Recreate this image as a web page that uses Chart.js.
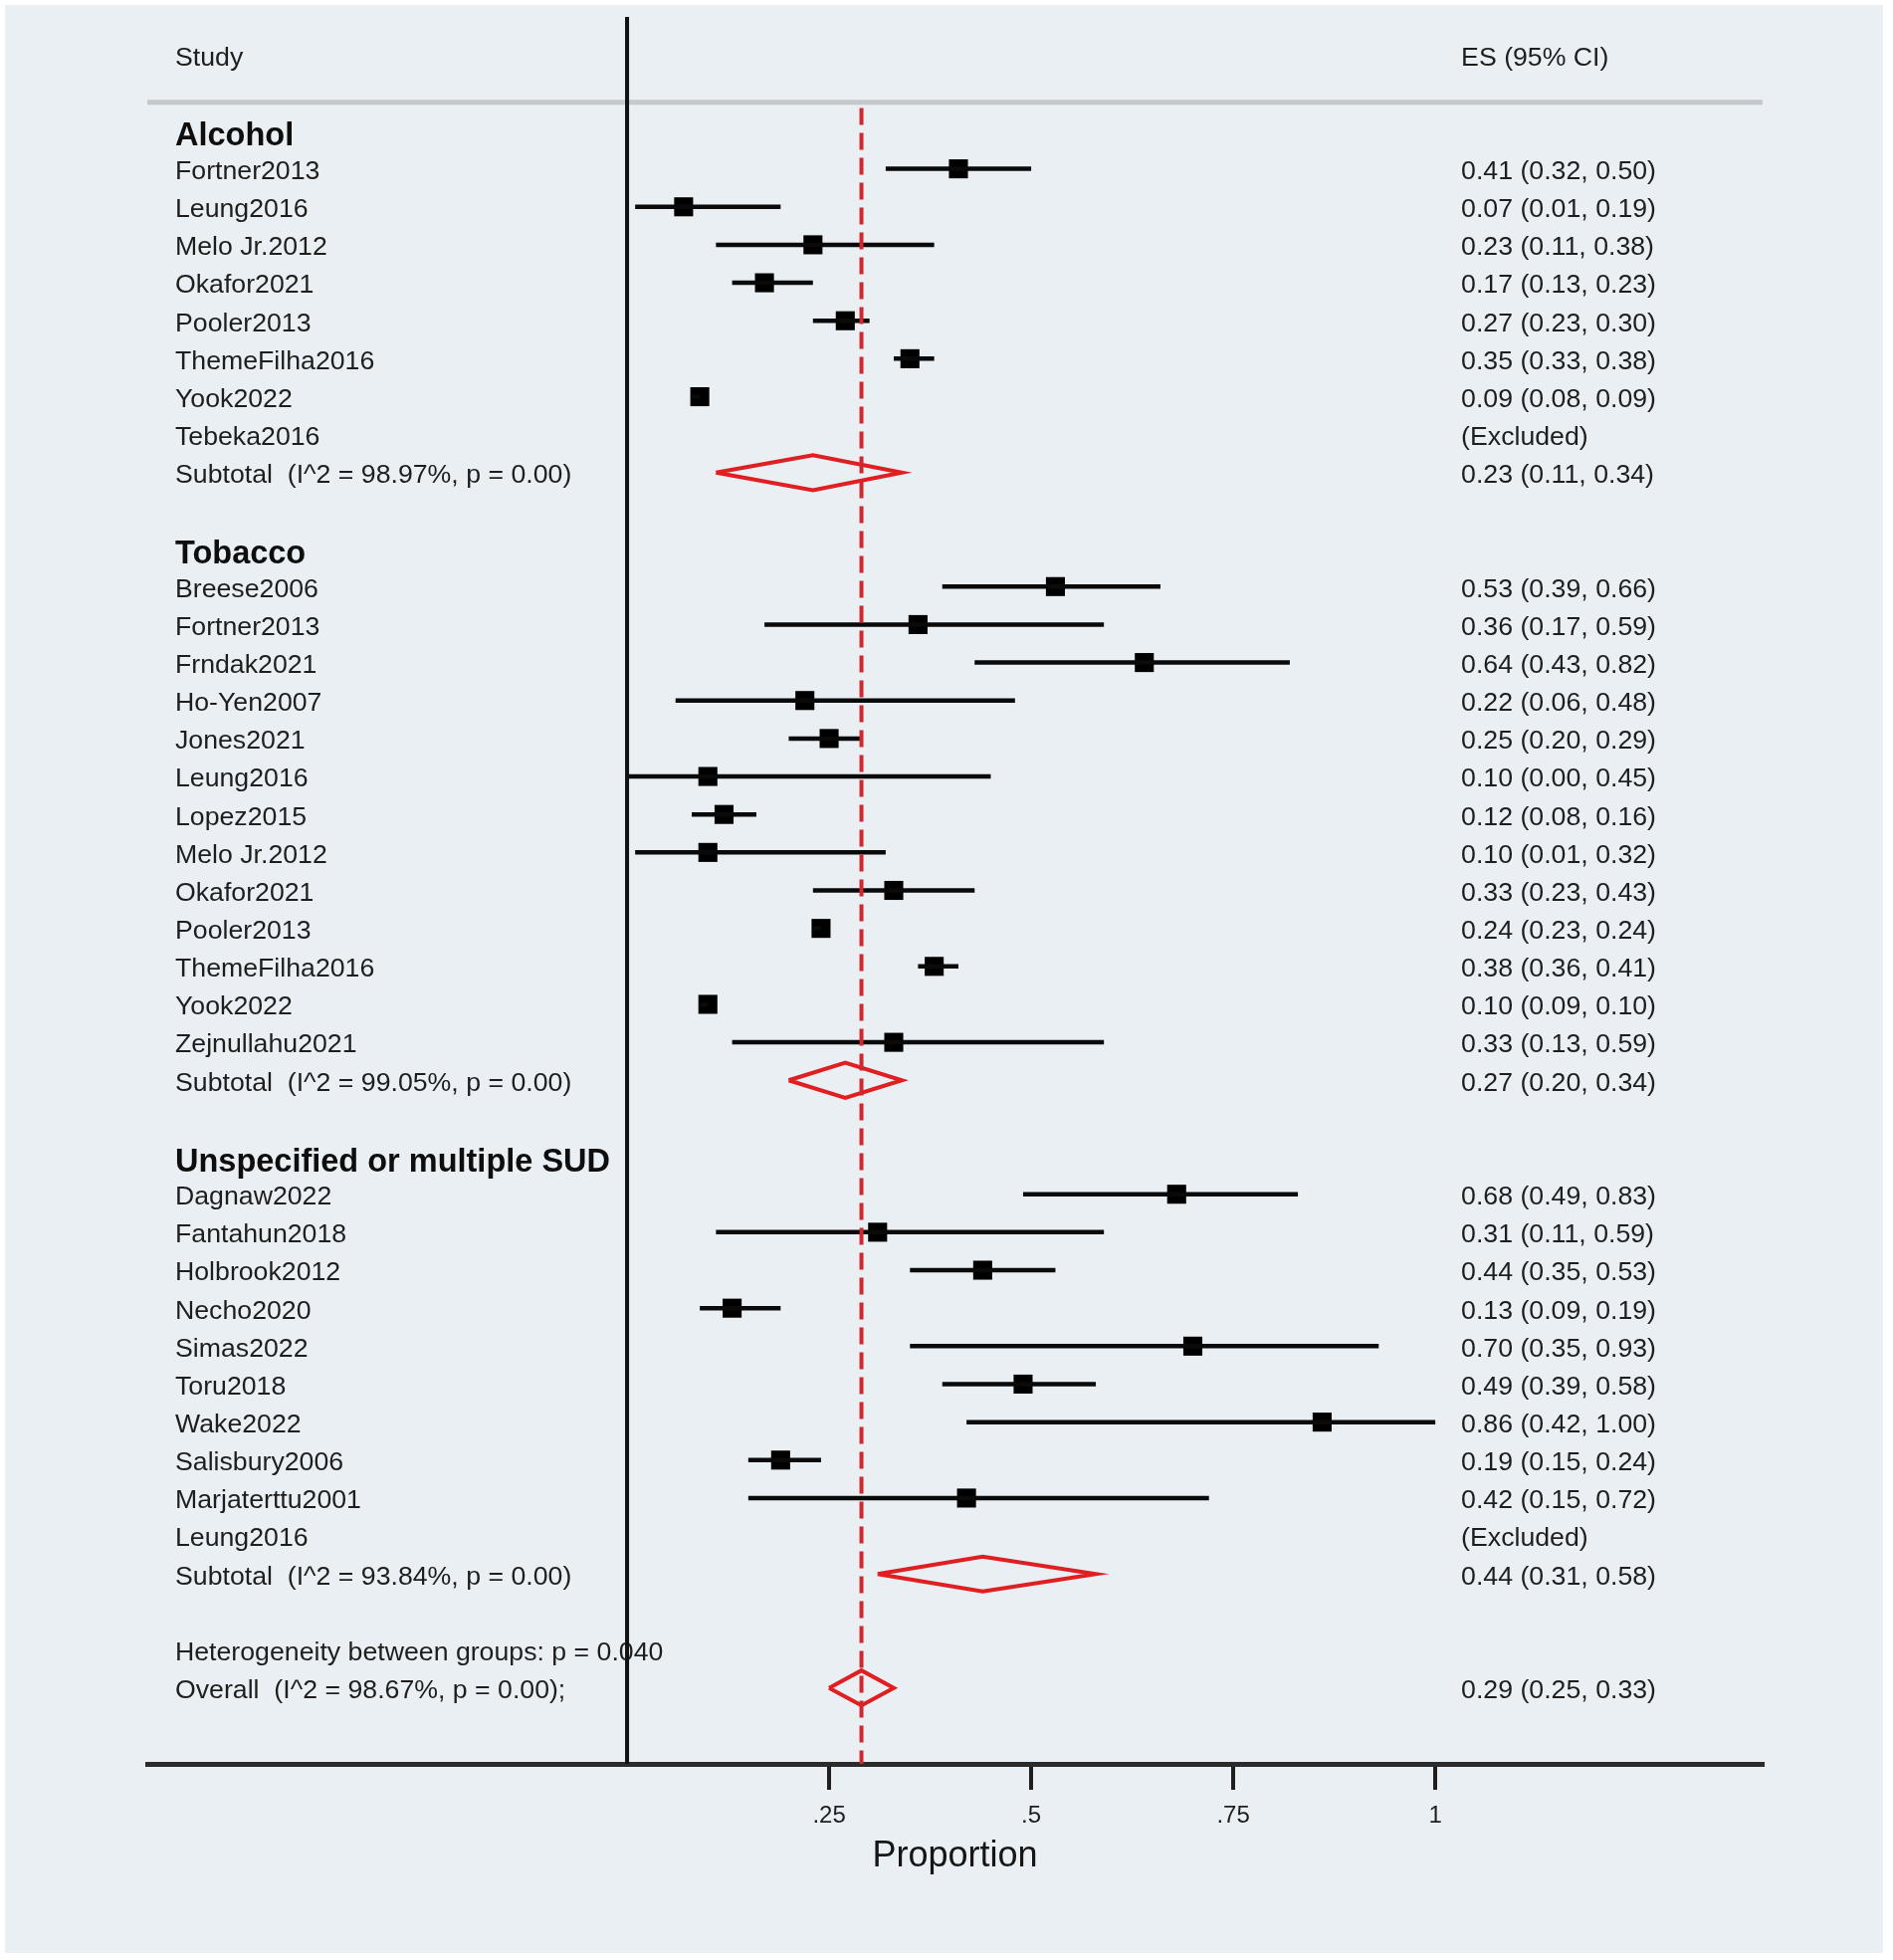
<!DOCTYPE html>
<html>
<head>
<meta charset="utf-8">
<title>Forest plot - Proportion</title>
<script src="https://cdn.jsdelivr.net/npm/chart.js@4.4.0/dist/chart.umd.min.js"></script>
<style>
    html, body { margin: 0; padding: 0; background: #ffffff; }
    #forest { display: block; }
</style>
</head>
<body>
<canvas id="forest" width="1902" height="1969"></canvas>
<script>

const groupNames = ['Alcohol', 'Tobacco', 'Unspecified or multiple SUD'];

const alcoholStudies = ['Fortner2013', 'Leung2016', 'Melo Jr.2012', 'Okafor2021', 'Pooler2013', 'ThemeFilha2016', 'Yook2022', 'Tebeka2016'];
const alcoholES = [0.41, 0.07, 0.23, 0.17, 0.27, 0.35, 0.09, null];
const alcoholLow = [0.32, 0.01, 0.11, 0.13, 0.23, 0.33, 0.08, null];
const alcoholHigh = [0.50, 0.19, 0.38, 0.23, 0.30, 0.38, 0.09, null];

const tobaccoStudies = ['Breese2006', 'Fortner2013', 'Frndak2021', 'Ho-Yen2007', 'Jones2021', 'Leung2016', 'Lopez2015', 'Melo Jr.2012', 'Okafor2021', 'Pooler2013', 'ThemeFilha2016', 'Yook2022', 'Zejnullahu2021'];
const tobaccoES = [0.53, 0.36, 0.64, 0.22, 0.25, 0.10, 0.12, 0.10, 0.33, 0.24, 0.38, 0.10, 0.33];
const tobaccoLow = [0.39, 0.17, 0.43, 0.06, 0.20, 0.00, 0.08, 0.01, 0.23, 0.23, 0.36, 0.09, 0.13];
const tobaccoHigh = [0.66, 0.59, 0.82, 0.48, 0.29, 0.45, 0.16, 0.32, 0.43, 0.24, 0.41, 0.10, 0.59];

const sudStudies = ['Dagnaw2022', 'Fantahun2018', 'Holbrook2012', 'Necho2020', 'Simas2022', 'Toru2018', 'Wake2022', 'Salisbury2006', 'Marjaterttu2001', 'Leung2016'];
const sudES = [0.68, 0.31, 0.44, 0.13, 0.70, 0.49, 0.86, 0.19, 0.42, null];
const sudLow = [0.49, 0.11, 0.35, 0.09, 0.35, 0.39, 0.42, 0.15, 0.15, null];
const sudHigh = [0.83, 0.59, 0.53, 0.19, 0.93, 0.58, 1.00, 0.24, 0.72, null];

const subtotalES = [0.23, 0.27, 0.44];
const subtotalLow = [0.11, 0.20, 0.31];
const subtotalHigh = [0.34, 0.34, 0.58];
const subtotalI2 = ['98.97%', '99.05%', '93.84%'];

const overallES = 0.29;
const overallLow = 0.25;
const overallHigh = 0.33;
const overallI2 = '98.67%';
const heterogeneityP = '0.040';

const tickValues = [0.25, 0.5, 0.75, 1];
const tickLabels = ['.25', '.5', '.75', '1'];

const FONT = '"Liberation Sans", Arial, Helvetica, sans-serif';

document.addEventListener('DOMContentLoaded', function () {
    forestPlot();
});

function fmtCI(es, lo, hi) {
    if (es === null) return '(Excluded)';
    return es.toFixed(2) + ' (' + lo.toFixed(2) + ', ' + hi.toFixed(2) + ')';
}

// one row per line of the plot, top to bottom
function buildRows() {
    const groups = [
        { studies: alcoholStudies, es: alcoholES, lo: alcoholLow, hi: alcoholHigh },
        { studies: tobaccoStudies, es: tobaccoES, lo: tobaccoLow, hi: tobaccoHigh },
        { studies: sudStudies, es: sudES, lo: sudLow, hi: sudHigh }
    ];
    const rows = [];
    let r = 0;
    groups.forEach(function (g, gi) {
        rows.push({ row: r++, label: groupNames[gi], kind: 'header' });
        g.studies.forEach(function (s, i) {
            rows.push({ row: r++, label: s, kind: 'study', es: g.es[i], lo: g.lo[i], hi: g.hi[i] });
        });
        rows.push({
            row: r, label: 'Subtotal  (I^2 = ' + subtotalI2[gi] + ', p = 0.00)', kind: 'pooled',
            es: subtotalES[gi], lo: subtotalLow[gi], hi: subtotalHigh[gi]
        });
        r += 2;
    });
    rows.push({ row: r++, label: 'Heterogeneity between groups: p = ' + heterogeneityP, kind: 'note' });
    rows.push({
        row: r, label: 'Overall  (I^2 = ' + overallI2 + ', p = 0.00);', kind: 'pooled',
        es: overallES, lo: overallLow, hi: overallHigh
    });
    return rows;
}

function segment(points, color, width, dash) {
    return {
        data: points,
        showLine: true,
        borderColor: color,
        borderWidth: width,
        borderDash: dash || [],
        pointRadius: 0,
        tension: 0,
        fill: false
    };
}

function forestPlot() {

    const rows = buildRows();
    const xMin = -0.5936;
    const xMax = 1.405;
    const datasets = [];

    // zero line, header rule, pooled estimate line
    datasets.push(segment([{ x: 0, y: -3 }, { x: 0, y: 43 }], '#111111', 4));
    datasets.push(segment([{ x: xMin, y: -0.75 }, { x: xMax, y: -0.75 }], '#c5c9cb', 5));
    datasets.push(segment([{ x: overallES, y: -0.6 }, { x: overallES, y: 43 }], '#d0282d', 4, [17, 8]));

    const squares = [];
    rows.forEach(function (d) {
        if (d.kind === 'study' && d.es !== null) {
            datasets.push(segment([{ x: d.lo, y: d.row }, { x: d.hi, y: d.row }], '#0a0a0a', 4.5));
            squares.push({ x: d.es, y: d.row });
        }
        if (d.kind === 'pooled') {
            const h = 0.46;
            datasets.push(segment([
                { x: d.lo, y: d.row },
                { x: d.es, y: d.row - h },
                { x: d.hi, y: d.row },
                { x: d.es, y: d.row + h },
                { x: d.lo, y: d.row }
            ], '#e01f23', 4));
        }
    });

    datasets.push({
        data: squares,
        pointStyle: 'rect',
        pointRadius: 13.5,
        backgroundColor: '#000000',
        borderWidth: 0
    });

    const panelBackground = {
        id: 'panelBackground',
        beforeDraw(chart) {
            const ctx = chart.ctx;
            ctx.save();
            ctx.fillStyle = '#e9eff2';
            ctx.fillRect(5, 5, 1887, 1957);
            ctx.restore();
        }
    };

    const forestText = {
        id: 'forestText',
        beforeDatasetsDraw(chart) {
            const ctx = chart.ctx;
            const xs = chart.scales.x;
            const ys = chart.scales.y;
            const labelX = chart.chartArea.left + 28;
            const esX = xs.getPixelForValue(1) + 26;
            ctx.save();
            ctx.textBaseline = 'middle';
            ctx.textAlign = 'left';
            ctx.fillStyle = '#1e1e1e';
            ctx.font = '26.7px ' + FONT;
            ctx.fillText('Study', labelX, ys.getPixelForValue(-2) + 3);
            ctx.fillText('ES (95% CI)', esX, ys.getPixelForValue(-2) + 3);
            rows.forEach(function (d) {
                let y = ys.getPixelForValue(d.row) + 3;
                if (d.kind === 'header') {
                    ctx.font = 'bold 32.5px ' + FONT;
                    ctx.fillStyle = '#0e0e0e';
                    y += 3;
                } else {
                    ctx.font = '26.7px ' + FONT;
                    ctx.fillStyle = '#1e1e1e';
                }
                ctx.fillText(d.label, labelX, y);
                if (d.kind === 'study' || d.kind === 'pooled') {
                    ctx.fillText(fmtCI(d.es, d.lo, d.hi), esX, y);
                }
            });
            ctx.restore();
        }
    };

    const ctx = document.getElementById('forest');

    new Chart(ctx, {
        type: 'scatter',
        data: { datasets: datasets },
        plugins: [panelBackground, forestText],
        options: {
            responsive: false,
            animation: false,
            devicePixelRatio: 1,
            events: [],
            layout: {
                padding: { left: 148, right: 131, top: 17, bottom: 77 }
            },
            plugins: {
                legend: { display: false },
                tooltip: { enabled: false }
            },
            scales: {
                x: {
                    type: 'linear',
                    min: xMin,
                    max: xMax,
                    afterBuildTicks: function (scale) {
                        scale.ticks = tickValues.map(function (v) { return { value: v }; });
                    },
                    afterFit: function (scale) {
                        scale.height = 120;
                    },
                    ticks: {
                        autoSkip: false,
                        maxRotation: 0,
                        padding: 12,
                        color: '#1e1e1e',
                        font: { family: FONT, size: 24 },
                        callback: function (v) {
                            const i = tickValues.indexOf(v);
                            return i >= 0 ? tickLabels[i] : '';
                        }
                    },
                    grid: {
                        drawOnChartArea: false,
                        drawTicks: true,
                        tickLength: 26,
                        lineWidth: 4,
                        color: '#1e1e1e'
                    },
                    border: { display: true, color: '#2b2b2b', width: 5 },
                    title: {
                        display: true,
                        text: 'Proportion',
                        color: '#151515',
                        font: { family: FONT, size: 36 },
                        padding: { top: 0, bottom: 5 }
                    }
                },
                y: {
                    type: 'linear',
                    display: false,
                    reverse: true,
                    min: -3,
                    max: 43
                }
            }
        }
    });

}
</script>
</body>
</html>
